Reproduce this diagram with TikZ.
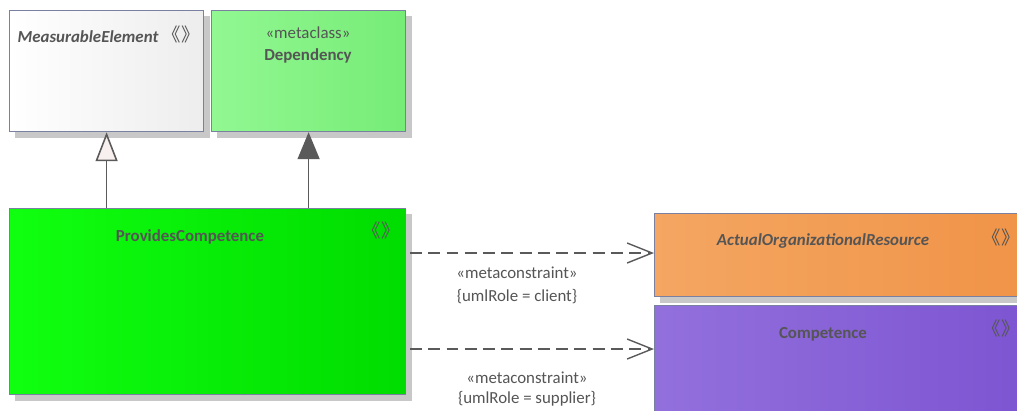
\documentclass[tikz,border=0pt]{standalone}
\usepackage{fontspec}
\setmainfont{Carlito}
\newfontfamily\cjkfont{Noto Sans CJK SC}
\usetikzlibrary{arrows.meta}

\definecolor{boxline}{HTML}{7A80A0}
\definecolor{txtgray}{HTML}{555555}
\definecolor{linegray}{HTML}{5A5A5A}
\definecolor{shadowgray}{HTML}{C8C8C8}
\definecolor{genfill}{HTML}{F8F0EE}

\newcommand{\stereo}{{\cjkfont\fontsize{10.5}{11}\selectfont 《》}}

\tikzset{
  umlbox/.style={draw=boxline, line width=0.7pt, anchor=north west, inner sep=0pt},
  boxshadow/.style={fill=shadowgray, draw=none},
  txt/.style={text=txtgray, font=\fontsize{9.6}{11}\selectfont, inner sep=0pt},
  gen/.style={draw=linegray, line width=0.9pt,
    -{Triangle[open, length=0.58cm, width=0.44cm, fill=genfill]}},
  dep/.style={draw=linegray, line width=0.9pt,
    -{Triangle[length=0.54cm, width=0.44cm, fill=linegray]}},
  metadep/.style={draw=linegray, line width=0.8pt, dash pattern=on 6.8pt off 3.6pt,
    -{Straight Barb[length=0.5cm, width=0.4cm]}}
}

\begin{document}
\begin{tikzpicture}[x=0.02cm, y=-0.02cm]
\useasboundingbox (0,0) rectangle (1017,410);

% shadows
\path[boxshadow] (15,16) rectangle (210,138);
\path[boxshadow] (217,16) rectangle (412,138);
\path[boxshadow] (15,214) rectangle (412,401);
\path[boxshadow] (660,219) rectangle (1017,303);
\path[boxshadow] (660,311) rectangle (1017,410);

% boxes
\node[umlbox, left color=white, right color=black!7,
  minimum width=3.88cm, minimum height=2.42cm] (me) at (9,10) {};
\node[umlbox, left color={rgb,255:red,146;green,248;blue,146}, right color={rgb,255:red,118;green,236;blue,118},
  minimum width=3.88cm, minimum height=2.42cm] (dep) at (211,10) {};
\node[umlbox, left color={rgb,255:red,16;green,255;blue,16}, right color={rgb,255:red,0;green,220;blue,0},
  minimum width=7.92cm, minimum height=3.72cm] (pc) at (9,208) {};
\node[umlbox, left color={rgb,255:red,244;green,166;blue,98}, right color={rgb,255:red,240;green,148;blue,72},
  minimum width=7.3cm, minimum height=1.66cm] (aor) at (654,213) {};
\node[umlbox, left color={rgb,255:red,146;green,112;blue,220}, right color={rgb,255:red,126;green,85;blue,210},
  minimum width=7.3cm, minimum height=2.4cm] (comp) at (654,305) {};

% texts
\node[txt, font=\fontsize{9.6}{11}\selectfont\bfseries\itshape] (meName) at (88,37) {MeasurableElement};
\node[txt] (meSt) at (181,34) {\stereo};
\node[txt] (depSt) at (308,33) {«metaclass»};
\node[txt, font=\fontsize{9.6}{11}\selectfont\bfseries] (depName) at (308,56) {Dependency};
\node[txt, font=\fontsize{9.6}{11}\selectfont\bfseries] (pcName) at (190,237) {ProvidesCompetence};
\node[txt] (pcSt) at (381,230) {\stereo};
\node[txt, font=\fontsize{9.6}{11}\selectfont\bfseries\itshape] (aorName) at (823,241) {ActualOrganizationalResource};
\node[txt] (aorSt) at (1001,237) {\stereo};
\node[txt, font=\fontsize{9.6}{11}\selectfont\bfseries] (compName) at (823,334) {Competence};
\node[txt] (compSt) at (1001,328) {\stereo};

% connectors
\draw[gen] (me.south |- pc.north) -- (me.south);
\draw[dep] (dep.south |- pc.north) -- (dep.south);

\coordinate (c1) at (410,253);
\coordinate (c2) at (410,349);
\draw[metadep] (c1) -- (c1 -| aor.west);
\draw[metadep] (c2) -- (c2 -| comp.west);

\node[txt] (l1a) at (517,273) {«metaconstraint»};
\node[txt] (l1b) at (517,297) {\{umlRole = client\}};
\node[txt] (l2a) at (527,378) {«metaconstraint»};
\node[txt] (l2b) at (527,399) {\{umlRole = supplier\}};
\end{tikzpicture}
\end{document}
